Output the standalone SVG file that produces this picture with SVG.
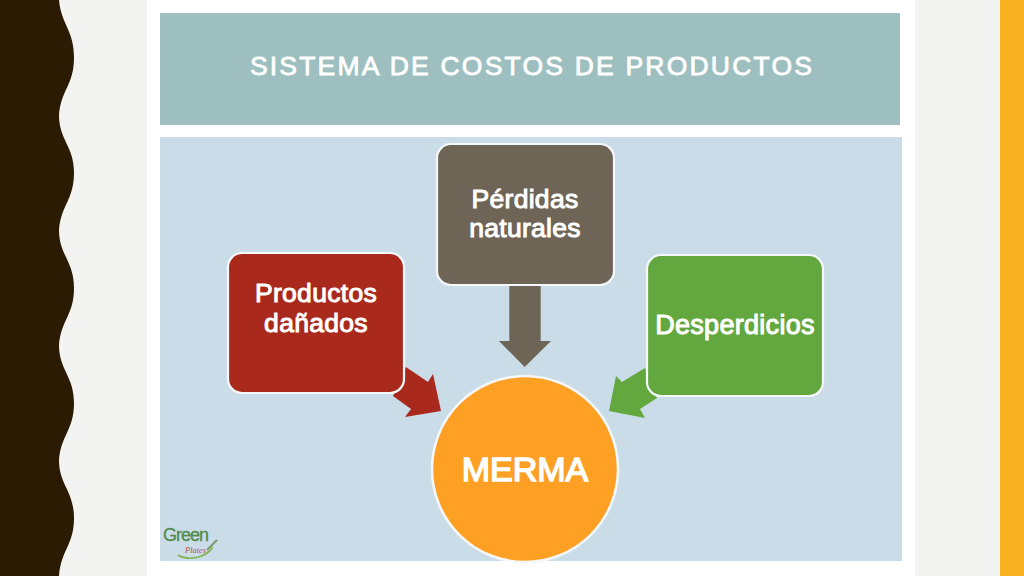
<svg xmlns="http://www.w3.org/2000/svg" width="1024" height="576" viewBox="0 0 1024 576">
<style>
.box{stroke:#f4f8fa;stroke-width:2.2}
.lbl{font-family:"Liberation Sans",Arial,sans-serif;font-size:26.500px;letter-spacing:.3px;fill:#fff;stroke:#fff;stroke-width:1px;text-anchor:middle}
</style>
<rect width="1024" height="576" fill="#f3f3f2"/>
<rect x="147" width="768" height="576" fill="#fff"/>
<rect x="1000" width="24" height="576" fill="#f9b122"/>
<path id="wave" fill="#2b1b02" d="M0,0H59C61,24 74,30 74,57.5C74,85 61,90 59,115C59,140 74,146 74,172.500C74,200 61,205 59,230C59,255 74,261 74,288C74,315 61,320 59,345C59,370 74,376 74,403C74,430 61,435 59,460C59,485 74,491 74,518C74,545 61,550 59,576H0Z"/>
<g id="title">
<rect x="160" y="13" width="740" height="112" fill="#9dbfc0"/>
<text x="532" y="75" font-family="'Liberation Sans',Arial,sans-serif" font-size="26.500" letter-spacing="2.200" fill="#fff" stroke="#fff" stroke-width=".8" text-anchor="middle">SISTEMA DE COSTOS DE PRODUCTOS</text>
</g>
<rect id="panel" x="160" y="137" width="742" height="424" fill="#cbdce9"/>
<g id="connectors">
<polygon fill="#a92a1c" points="406,367 428,382 433,374 441,411 405,417 411,409 393,396"/>
<polygon fill="#6f6557" points="509.300,286 540.700,286 540.700,341 551,341 524.700,367 499,341 509.300,341"/>
<polygon fill="#62a83e" points="645,368 622,382 616,376 609,411 645,418 640,409 657,398"/>
</g>
<g id="perdidas">
<rect class="box" x="437" y="144" width="177" height="141" rx="14" fill="#6f6557"/>
<text class="lbl" x="525" y="208">Pérdidas</text>
<text class="lbl" x="525" y="237">naturales</text>
</g>
<g id="productos">
<rect class="box" x="228" y="253" width="176" height="140" rx="14" fill="#a92a1c"/>
<text class="lbl" x="316" y="302">Productos</text>
<text class="lbl" x="316" y="332">dañados</text>
</g>
<g id="desperdicios">
<rect class="box" x="647" y="255" width="176" height="141" rx="14" fill="#62a83e"/>
<text class="lbl" x="735" y="334" style="font-size:27px">Desperdicios</text>
</g>
<g id="merma">
<circle cx="525" cy="469" r="93" fill="#fda024" stroke="#f4f8fa" stroke-width="2.500"/>
<text x="525" y="481" font-family="'Liberation Sans',Arial,sans-serif" font-size="34" stroke="#fff" stroke-width="1.500" fill="#fff" text-anchor="middle">MERMA</text>
</g>
<g id="logo">
<text x="163" y="541" font-family="'Liberation Sans',Arial,sans-serif" font-size="18" letter-spacing="-1" fill="#4f8a4b" stroke="#4f8a4b" stroke-width=".3">Green</text>
<text x="185" y="553" font-family="'Liberation Serif',serif" font-style="italic" font-size="9" textLength="21" lengthAdjust="spacingAndGlyphs" fill="#b5524e">Plates</text>
<path d="M178,555C186,560 204,560 213,547" fill="none" stroke="#7fb04a" stroke-width="1.500"/>
<path d="M207,550L217,540" fill="none" stroke="#7d9a6f" stroke-width="2"/>
</g>
</svg>
